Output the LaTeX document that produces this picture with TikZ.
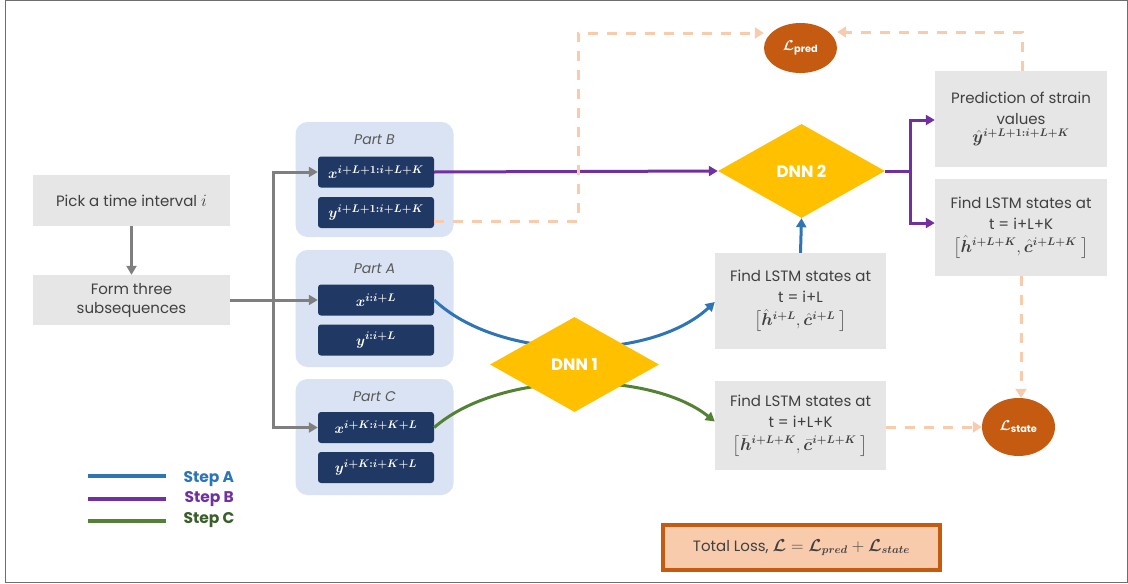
\documentclass[tikz,border=0pt]{standalone}
\usepackage{amsmath,bm}
\usepackage{fontspec}
\setmainfont{Poppins}
\setsansfont{Poppins}
\usetikzlibrary{arrows.meta,shapes.geometric}
\definecolor{boxgray}{HTML}{E7E6E6}
\definecolor{textgray}{HTML}{404040}
\definecolor{labelgray}{HTML}{595959}
\definecolor{partblue}{HTML}{DAE3F3}
\definecolor{navy}{HTML}{203864}
\definecolor{dnnyellow}{HTML}{FFC000}
\definecolor{lossorange}{HTML}{C55A11}
\definecolor{peach}{HTML}{F8CBAD}
\definecolor{stepblue}{HTML}{2E75B6}
\definecolor{steppurple}{HTML}{7030A0}
\definecolor{stepgreen}{HTML}{548235}
\definecolor{stepgreentext}{HTML}{3B5E2B}
\definecolor{arrowgray}{HTML}{7F7F7F}
\definecolor{framegray}{HTML}{6E6E6E}
\newcommand{\mline}[1]{{\fontsize{16}{18}\selectfont$#1$}}
\tikzset{
  graybox/.style={fill=boxgray, text=textgray, align=center, inner sep=0pt,
    font=\fontsize{15}{18}\selectfont},
  partbox/.style={fill=partblue, rounded corners=12pt, inner sep=0pt},
  partlabel/.style={text=labelgray, font=\fontsize{14}{16}\selectfont\itshape},
  seqbox/.style={fill=navy, rounded corners=3pt, text=white, inner sep=0pt,
    minimum width=116, minimum height=31, font=\fontsize{15}{17}\selectfont},
  dnn/.style={diamond, fill=dnnyellow, text=white, inner sep=0pt,
    font=\fontsize{16.5}{18}\selectfont\bfseries},
  loss/.style={ellipse, fill=lossorange, text=white, inner sep=0pt,
    minimum width=73, font=\fontsize{14}{16}\selectfont\bfseries},
  grayarrow/.style={draw=arrowgray, line width=3, -{Triangle[length=9,width=10]}},
  grayline/.style={draw=arrowgray, line width=3},
  purplearrow/.style={draw=steppurple, line width=3, -{Triangle[length=9,width=10]}},
  purpleline/.style={draw=steppurple, line width=3},
  bluearrow/.style={draw=stepblue, line width=3, -{Triangle[length=9,width=10]}},
  greenarrow/.style={draw=stepgreen, line width=3, -{Triangle[length=9,width=10]}},
  peacharrow/.style={draw=peach, line width=3, dash pattern=on 10pt off 9pt, -{Triangle[length=9,width=11]}},
  legendline/.style={line width=4},
  legendtext/.style={font=\fontsize{15.5}{18}\selectfont\bfseries, anchor=west}
}
\begin{document}
\begin{tikzpicture}[x=1pt,y=-1pt]
\useasboundingbox (0,0) rectangle (1128,584);
\draw[framegray, line width=1.2] (5.5,0.8) rectangle (1127.3,582.5);

% left boxes
\node[graybox, minimum width=197, minimum height=51] (pick) at (131.5,200.5) {Pick a time interval \mline{i}};
\node[graybox, minimum width=197, minimum height=50] (form) at (131.5,300) {Form three\\[1pt]subsequences};

% parts
\node[partbox, minimum width=158, minimum height=115] (partB) at (374.5,179.5) {};
\node[partbox, minimum width=158, minimum height=117] (partA) at (374.5,308.5) {};
\node[partbox, minimum width=158, minimum height=116] (partC) at (374.5,437) {};
\node[partlabel] (labB) at (374.5,140) {Part B};
\node[partlabel] (labA) at (374.5,269) {Part A};
\node[partlabel] (labC) at (374.5,397) {Part C};
\node[seqbox] (xB) at (376,172) {$\bm{x^{i+L+1:i+L+K}}$};
\node[seqbox] (yB) at (376,212.5) {$\bm{y^{i+L+1:i+L+K}}$};
\node[seqbox] (xA) at (376,300) {$\bm{x^{i:i+L}}$};
\node[seqbox] (yA) at (376,340) {$\bm{y^{i:i+L}}$};
\node[seqbox] (xC) at (376,427.5) {$\bm{x^{i+K:i+K+L}}$};
\node[seqbox] (yC) at (376,467.5) {$\bm{y^{i+K:i+K+L}}$};

% right boxes
\node[graybox, minimum width=171, minimum height=96] (lstmA) at (800.5,301) {Find LSTM states at\\[3pt]t = i+L\\[5pt]\mline{\big[\hat{\bm{h}}^{\bm{i+L}},\hat{\bm{c}}^{\bm{i+L}}\ \big]}};
\node[graybox, minimum width=171, minimum height=89] (lstmC) at (800.5,425.5) {Find LSTM states at\\[3pt]t = i+L+K\\[5pt]\mline{\big[\bar{\bm{h}}^{\bm{i+L+K}},\bar{\bm{c}}^{\bm{i+L+K}}\ \big]}};
\node[graybox, minimum width=172, minimum height=96] (pred) at (1021,119) {Prediction of strain\\[3pt]values\\[0pt]\mline{\hat{\bm{y}}^{\bm{i+L+1:i+L+K}}}};
\node[graybox, minimum width=172, minimum height=97] (lstmK) at (1021,227.5) {Find LSTM states at\\[3pt]t = i+L+K\\[5pt]\mline{\big[\hat{\bm{h}}^{\bm{i+L+K}},\hat{\bm{c}}^{\bm{i+L+K}}\ \big]}};

% losses
\node[loss, minimum height=50] (lpred) at (800.5,48) {$\bm{\mathcal{L}}_{\text{\bfseries pred}}$};
\node[loss, minimum height=58] (lstate) at (1018.5,427) {$\bm{\mathcal{L}}_{\text{\bfseries state}}$};

% step A / C curves (behind DNN 1)
\draw[bluearrow] (xA.east) .. controls (500,362) and (650,362) .. ([yshift=-1]lstmA.west);
\draw[greenarrow] (xC.east) .. controls (500,370) and (650,370) .. ([yshift=4]lstmC.west);

% DNNs
\node[dnn, minimum width=167, minimum height=94] (dnn2) at (801.5,171) {DNN 2};
\node[dnn, minimum width=169, minimum height=95] (dnn1) at (574.5,364.5) {DNN 1};

% gray arrows
\coordinate (split) at (273,300);
\draw[grayarrow] (pick) -- (form);
\draw[grayline] (form.east) -- (split);
\draw[grayarrow] (split) |- (xB.west);
\draw[grayarrow] (split) -- (xA.west);
\draw[grayarrow] (split) |- (xC.west);

% step B
\coordinate (pj) at (910,171);
\draw[purplearrow] (xB.east) -- (dnn2.west);
\draw[purpleline] (dnn2.east) -- (pj);
\draw[purplearrow] (pj) |- ([yshift=-1]pred.west);
\draw[purplearrow] (pj) |- ([yshift=4.5]lstmK.west);
\draw[bluearrow] (lstmA.north) -- (dnn2.south);

% dashed loss connections
\coordinate (c1) at (578,33);
\coordinate (c2) at (1022,32);
\draw[peacharrow] ([yshift=-9]yB.east) -| (c1) -- (lpred.west |- c1);
\draw[peacharrow] (pred.north -| c2) |- (lpred.east |- c2);
\draw[peacharrow] (lstmK.south) -- (lstmK.south |- lstate.north);
\draw[peacharrow] (lstmC.east |- lstate) -- (lstate.west);

% legend
\draw[legendline, stepblue] (88,476) -- (166,476);
\draw[legendline, steppurple] (88,498.5) -- (166,498.5);
\draw[legendline, stepgreen] (88,521) -- (166,521);
\node[legendtext, text=stepblue] (stA) at (180,479) {Step A};
\node[legendtext, text=steppurple] (stB) at (181,499) {Step B};
\node[legendtext, text=stepgreentext] (stC) at (180,520) {Step C};

% total loss
\node[draw=lossorange, line width=4, fill=peach, text=textgray, minimum width=277, minimum height=45, inner sep=0pt,
  font=\fontsize{15}{17}\selectfont] (total) at (801.5,547.5)
  {Total Loss, \mline{\bm{\mathcal{L}} = \bm{\mathcal{L}_{pred}} + \bm{\mathcal{L}_{state}}}};
\end{tikzpicture}
\end{document}
